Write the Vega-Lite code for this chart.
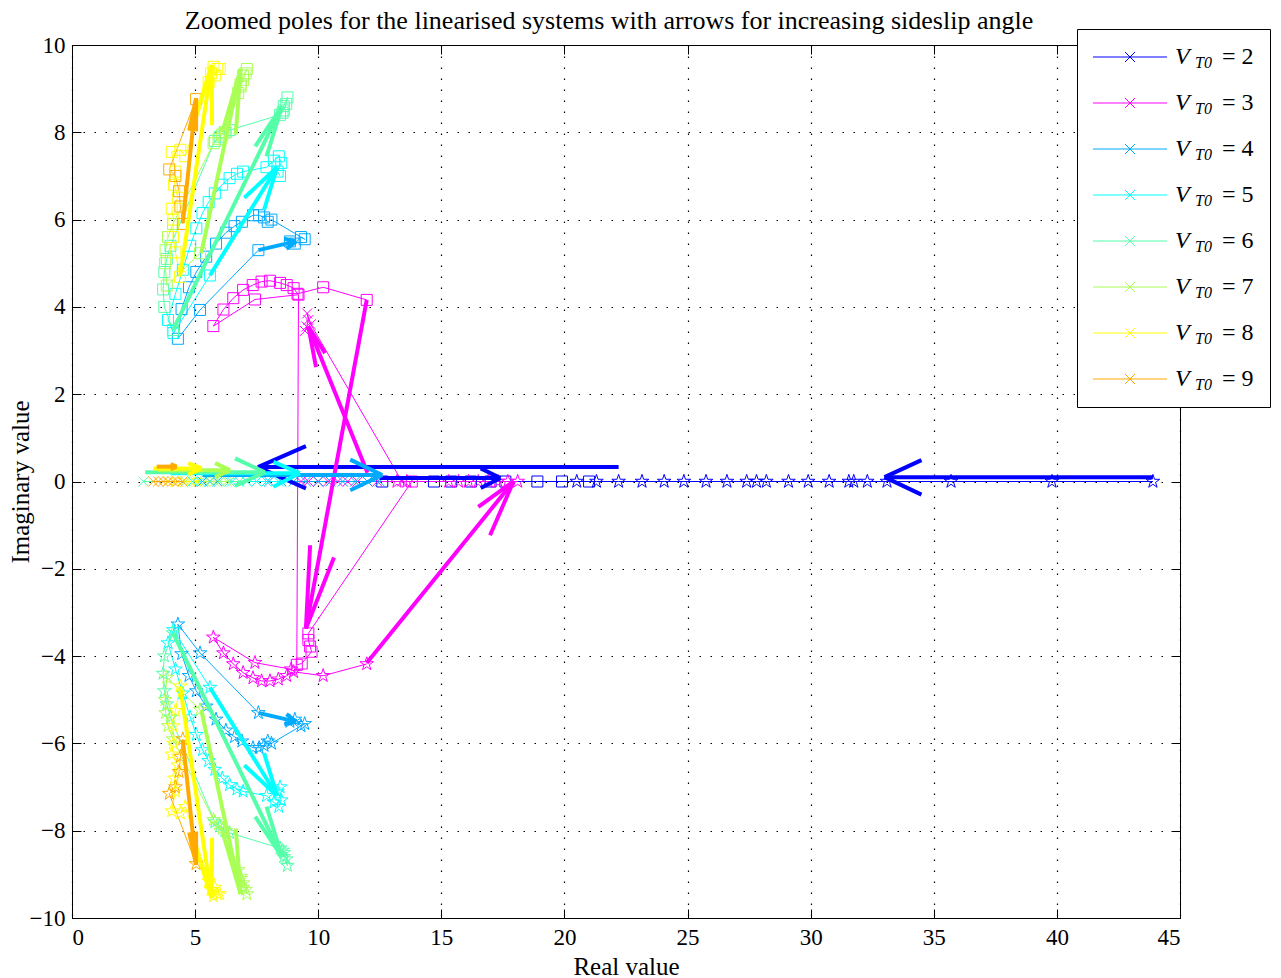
{
  "$schema": "https://vega.github.io/schema/vega-lite/v6.json",
  "width": 1108,
  "height": 873,
  "autosize": {"type": "none"},
  "padding": {"left": 72, "top": 45, "right": 101, "bottom": 60},
  "background": "#ffffff",
  "title": {
    "text": "Zoomed poles for the linearised systems with arrows for increasing sideslip angle",
    "font": "Liberation Serif",
    "fontSize": 26,
    "fontWeight": "normal",
    "color": "#000000",
    "anchor": "middle",
    "offset": -5,
    "dx": -17
  },
  "config": {
    "view": {"stroke": "#000000", "strokeWidth": 1},
    "axis": {
      "labelFont": "Liberation Serif",
      "labelFontSize": 23,
      "labelColor": "#000000",
      "titleFont": "Liberation Serif",
      "titleFontSize": 25,
      "titleFontWeight": "normal",
      "titleColor": "#000000",
      "domainColor": "#000000",
      "domainWidth": 1,
      "tickColor": "#000000",
      "tickWidth": 1,
      "tickSize": -9,
      "labelPadding": 14,
      "gridColor": "#000000",
      "gridOpacity": 1,
      "gridWidth": 1.2,
      "gridDash": [1.5, 9.5]
    }
  },
  "datasets": {
    "poles": [
      {"V":2,"k":"2s","m":"sq","i":0,"re":12.6,"im":0},
      {"V":2,"k":"2s","m":"sq","i":1,"re":14.7,"im":0},
      {"V":2,"k":"2s","m":"sq","i":2,"re":15.4,"im":0},
      {"V":2,"k":"2s","m":"sq","i":3,"re":16.2,"im":0},
      {"V":2,"k":"2s","m":"sq","i":4,"re":17.0,"im":0},
      {"V":2,"k":"2s","m":"sq","i":5,"re":17.6,"im":0},
      {"V":2,"k":"2s","m":"sq","i":6,"re":18.9,"im":0},
      {"V":2,"k":"2s","m":"sq","i":7,"re":19.9,"im":0},
      {"V":2,"k":"2s","m":"sq","i":8,"re":21.0,"im":0},
      {"V":2,"k":"2t","m":"st","i":0,"re":20.5,"im":0},
      {"V":2,"k":"2t","m":"st","i":1,"re":21.3,"im":0},
      {"V":2,"k":"2t","m":"st","i":2,"re":22.2,"im":0},
      {"V":2,"k":"2t","m":"st","i":3,"re":23.15,"im":0},
      {"V":2,"k":"2t","m":"st","i":4,"re":24.05,"im":0},
      {"V":2,"k":"2t","m":"st","i":5,"re":24.85,"im":0},
      {"V":2,"k":"2t","m":"st","i":6,"re":25.75,"im":0},
      {"V":2,"k":"2t","m":"st","i":7,"re":26.6,"im":0},
      {"V":2,"k":"2t","m":"st","i":8,"re":27.4,"im":0},
      {"V":2,"k":"2t","m":"st","i":9,"re":27.8,"im":0},
      {"V":2,"k":"2t","m":"st","i":10,"re":28.2,"im":0},
      {"V":2,"k":"2t","m":"st","i":11,"re":29.1,"im":0},
      {"V":2,"k":"2t","m":"st","i":12,"re":29.9,"im":0},
      {"V":2,"k":"2t","m":"st","i":13,"re":30.75,"im":0},
      {"V":2,"k":"2t","m":"st","i":14,"re":31.55,"im":0},
      {"V":2,"k":"2t","m":"st","i":15,"re":31.75,"im":0},
      {"V":2,"k":"2t","m":"st","i":16,"re":32.3,"im":0},
      {"V":2,"k":"2t","m":"st","i":17,"re":33.1,"im":0},
      {"V":2,"k":"2t","m":"st","i":18,"re":35.7,"im":0},
      {"V":2,"k":"2t","m":"st","i":19,"re":39.8,"im":0},
      {"V":2,"k":"2t","m":"st","i":20,"re":43.9,"im":0},

      {"V":3,"k":"3s","m":"sq","i":0,"re":11.97,"im":4.16},
      {"V":3,"k":"3s","m":"sq","i":1,"re":10.2,"im":4.45},
      {"V":3,"k":"3s","m":"sq","i":2,"re":9.16,"im":4.3},
      {"V":3,"k":"3s","m":"sq","i":3,"re":9.0,"im":4.43},
      {"V":3,"k":"3s","m":"sq","i":4,"re":8.72,"im":4.5},
      {"V":3,"k":"3s","m":"sq","i":5,"re":8.45,"im":4.55},
      {"V":3,"k":"3s","m":"sq","i":6,"re":8.04,"im":4.6},
      {"V":3,"k":"3s","m":"sq","i":7,"re":7.7,"im":4.58},
      {"V":3,"k":"3s","m":"sq","i":8,"re":7.34,"im":4.5},
      {"V":3,"k":"3s","m":"sq","i":9,"re":6.95,"im":4.39},
      {"V":3,"k":"3s","m":"sq","i":10,"re":6.55,"im":4.2},
      {"V":3,"k":"3s","m":"sq","i":11,"re":6.15,"im":3.94},
      {"V":3,"k":"3s","m":"sq","i":12,"re":5.74,"im":3.56},
      {"V":3,"k":"3s","m":"sq","i":13,"re":7.43,"im":4.17},
      {"V":3,"k":"3s","m":"sq","i":14,"re":9.2,"im":4.28},
      {"V":3,"k":"3s","m":"sq","i":15,"re":9.13,"im":-4.2},
      {"V":3,"k":"3s","m":"sq","i":16,"re":9.33,"im":-4.17},
      {"V":3,"k":"3s","m":"sq","i":17,"re":9.73,"im":-3.9},
      {"V":3,"k":"3s","m":"sq","i":18,"re":9.67,"im":-3.78},
      {"V":3,"k":"3s","m":"sq","i":19,"re":9.6,"im":-3.63},
      {"V":3,"k":"3s","m":"sq","i":20,"re":9.6,"im":-3.48},
      {"V":3,"k":"3s","m":"sq","i":21,"re":13.8,"im":0},
      {"V":3,"k":"3t","m":"st","i":0,"re":11.97,"im":-4.18},
      {"V":3,"k":"3t","m":"st","i":1,"re":10.2,"im":-4.45},
      {"V":3,"k":"3t","m":"st","i":2,"re":9.0,"im":-4.36},
      {"V":3,"k":"3t","m":"st","i":3,"re":8.72,"im":-4.45},
      {"V":3,"k":"3t","m":"st","i":4,"re":8.38,"im":-4.53},
      {"V":3,"k":"3t","m":"st","i":5,"re":8.04,"im":-4.57},
      {"V":3,"k":"3t","m":"st","i":6,"re":7.7,"im":-4.57},
      {"V":3,"k":"3t","m":"st","i":7,"re":7.35,"im":-4.5},
      {"V":3,"k":"3t","m":"st","i":8,"re":6.95,"im":-4.38},
      {"V":3,"k":"3t","m":"st","i":9,"re":6.55,"im":-4.18},
      {"V":3,"k":"3t","m":"st","i":10,"re":6.15,"im":-3.93},
      {"V":3,"k":"3t","m":"st","i":11,"re":5.74,"im":-3.57},
      {"V":3,"k":"3t","m":"st","i":12,"re":7.43,"im":-4.15},
      {"V":3,"k":"3t","m":"st","i":13,"re":8.9,"im":-4.3},
      {"V":3,"k":"3r","m":"st","i":0,"re":13.2,"im":0},
      {"V":3,"k":"3r","m":"st","i":1,"re":13.6,"im":0},
      {"V":3,"k":"3r","m":"st","i":2,"re":15.3,"im":0},
      {"V":3,"k":"3r","m":"st","i":3,"re":15.7,"im":0},
      {"V":3,"k":"3r","m":"st","i":4,"re":16.1,"im":0},
      {"V":3,"k":"3r","m":"st","i":5,"re":16.5,"im":0},
      {"V":3,"k":"3r","m":"st","i":6,"re":16.9,"im":0},
      {"V":3,"k":"3r","m":"st","i":7,"re":17.3,"im":0},
      {"V":3,"k":"3r","m":"st","i":8,"re":17.7,"im":0},
      {"V":3,"k":"3r","m":"st","i":9,"re":18.1,"im":0},
      {"V":3,"k":"3x","m":"x","i":0,"re":9.46,"im":3.45},
      {"V":3,"k":"3x","m":"x","i":1,"re":9.53,"im":3.55},
      {"V":3,"k":"3x","m":"x","i":2,"re":9.6,"im":3.7},
      {"V":3,"k":"3x","m":"x","i":3,"re":9.55,"im":3.85},
      {"V":3,"k":"3x","m":"x","i":4,"re":9.7,"im":3.6},
      {"V":3,"k":"3x","m":"x","i":5,"re":13.4,"im":0},
      {"V":3,"k":"3x","m":"x","i":6,"re":12.4,"im":0},
      {"V":3,"k":"3x","m":"x","i":7,"re":12.0,"im":0},
      {"V":3,"k":"3x","m":"x","i":8,"re":11.6,"im":0},
      {"V":3,"k":"3x","m":"x","i":9,"re":11.2,"im":0},
      {"V":3,"k":"3x","m":"x","i":10,"re":10.8,"im":0},
      {"V":3,"k":"3x","m":"x","i":11,"re":10.4,"im":0},
      {"V":3,"k":"3x","m":"x","i":12,"re":10.0,"im":0},
      {"V":3,"k":"3x","m":"x","i":13,"re":9.6,"im":0},
      {"V":3,"k":"3x","m":"x","i":14,"re":9.3,"im":0},

      {"V":4,"k":"4s","m":"sq","i":0,"re":7.57,"im":5.3},
      {"V":4,"k":"4s","m":"sq","i":1,"re":5.2,"im":3.93},
      {"V":4,"k":"4s","m":"sq","i":2,"re":4.3,"im":3.27},
      {"V":4,"k":"4s","m":"sq","i":3,"re":4.45,"im":3.95},
      {"V":4,"k":"4s","m":"sq","i":4,"re":4.75,"im":4.45},
      {"V":4,"k":"4s","m":"sq","i":5,"re":5.05,"im":4.8},
      {"V":4,"k":"4s","m":"sq","i":6,"re":5.45,"im":5.15},
      {"V":4,"k":"4s","m":"sq","i":7,"re":5.85,"im":5.45},
      {"V":4,"k":"4s","m":"sq","i":8,"re":6.25,"im":5.7},
      {"V":4,"k":"4s","m":"sq","i":9,"re":6.6,"im":5.85},
      {"V":4,"k":"4s","m":"sq","i":10,"re":6.9,"im":5.95},
      {"V":4,"k":"4s","m":"sq","i":11,"re":7.35,"im":6.1},
      {"V":4,"k":"4s","m":"sq","i":12,"re":7.6,"im":6.1},
      {"V":4,"k":"4s","m":"sq","i":13,"re":7.8,"im":6.05},
      {"V":4,"k":"4s","m":"sq","i":14,"re":7.95,"im":5.95},
      {"V":4,"k":"4s","m":"sq","i":15,"re":8.1,"im":6.0},
      {"V":4,"k":"4s","m":"sq","i":16,"re":9.45,"im":5.55},
      {"V":4,"k":"4s","m":"sq","i":17,"re":9.3,"im":5.6},
      {"V":4,"k":"4s","m":"sq","i":18,"re":9.05,"im":5.45},
      {"V":4,"k":"4s","m":"sq","i":19,"re":8.85,"im":5.5},
      {"V":4,"k":"4t","m":"st","i":0,"re":7.57,"im":-5.3},
      {"V":4,"k":"4t","m":"st","i":1,"re":5.2,"im":-3.93},
      {"V":4,"k":"4t","m":"st","i":2,"re":4.3,"im":-3.27},
      {"V":4,"k":"4t","m":"st","i":3,"re":4.45,"im":-3.95},
      {"V":4,"k":"4t","m":"st","i":4,"re":4.75,"im":-4.45},
      {"V":4,"k":"4t","m":"st","i":5,"re":5.05,"im":-4.8},
      {"V":4,"k":"4t","m":"st","i":6,"re":5.45,"im":-5.15},
      {"V":4,"k":"4t","m":"st","i":7,"re":5.85,"im":-5.45},
      {"V":4,"k":"4t","m":"st","i":8,"re":6.25,"im":-5.7},
      {"V":4,"k":"4t","m":"st","i":9,"re":6.6,"im":-5.85},
      {"V":4,"k":"4t","m":"st","i":10,"re":6.9,"im":-5.95},
      {"V":4,"k":"4t","m":"st","i":11,"re":7.35,"im":-6.1},
      {"V":4,"k":"4t","m":"st","i":12,"re":7.6,"im":-6.1},
      {"V":4,"k":"4t","m":"st","i":13,"re":7.8,"im":-6.05},
      {"V":4,"k":"4t","m":"st","i":14,"re":7.95,"im":-5.95},
      {"V":4,"k":"4t","m":"st","i":15,"re":8.1,"im":-6.0},
      {"V":4,"k":"4t","m":"st","i":16,"re":9.45,"im":-5.55},
      {"V":4,"k":"4t","m":"st","i":17,"re":9.3,"im":-5.6},
      {"V":4,"k":"4t","m":"st","i":18,"re":9.05,"im":-5.45},
      {"V":4,"k":"4t","m":"st","i":19,"re":8.85,"im":-5.5},
      {"V":4,"k":"4x","m":"x","i":0,"re":5.3,"im":0},
      {"V":4,"k":"4x","m":"x","i":1,"re":5.6,"im":0},
      {"V":4,"k":"4x","m":"x","i":2,"re":5.9,"im":0},
      {"V":4,"k":"4x","m":"x","i":3,"re":8.0,"im":0},
      {"V":4,"k":"4x","m":"x","i":4,"re":8.5,"im":0},
      {"V":4,"k":"4x","m":"x","i":5,"re":9.0,"im":0},
      {"V":4,"k":"4x","m":"x","i":6,"re":9.5,"im":0},
      {"V":4,"k":"4x","m":"x","i":7,"re":10.0,"im":0},
      {"V":4,"k":"4x","m":"x","i":8,"re":10.5,"im":0},
      {"V":4,"k":"4x","m":"x","i":9,"re":11.0,"im":0},
      {"V":4,"k":"4x","m":"x","i":10,"re":11.5,"im":0},
      {"V":4,"k":"4x","m":"x","i":11,"re":12.0,"im":0},
      {"V":4,"k":"4x","m":"x","i":12,"re":12.5,"im":0},

      {"V":5,"k":"5s","m":"sq","i":0,"re":5.6,"im":4.72},
      {"V":5,"k":"5s","m":"sq","i":1,"re":4.12,"im":3.4},
      {"V":5,"k":"5s","m":"sq","i":2,"re":3.9,"im":3.7},
      {"V":5,"k":"5s","m":"sq","i":3,"re":4.2,"im":4.3},
      {"V":5,"k":"5s","m":"sq","i":4,"re":4.5,"im":4.85},
      {"V":5,"k":"5s","m":"sq","i":5,"re":4.8,"im":5.4},
      {"V":5,"k":"5s","m":"sq","i":6,"re":5.05,"im":5.8},
      {"V":5,"k":"5s","m":"sq","i":7,"re":5.3,"im":6.15},
      {"V":5,"k":"5s","m":"sq","i":8,"re":5.55,"im":6.4},
      {"V":5,"k":"5s","m":"sq","i":9,"re":5.8,"im":6.6},
      {"V":5,"k":"5s","m":"sq","i":10,"re":6.1,"im":6.8},
      {"V":5,"k":"5s","m":"sq","i":11,"re":6.4,"im":6.95},
      {"V":5,"k":"5s","m":"sq","i":12,"re":6.7,"im":7.05},
      {"V":5,"k":"5s","m":"sq","i":13,"re":6.95,"im":7.1},
      {"V":5,"k":"5s","m":"sq","i":14,"re":7.9,"im":7.2},
      {"V":5,"k":"5s","m":"sq","i":15,"re":8.2,"im":7.35},
      {"V":5,"k":"5s","m":"sq","i":16,"re":8.4,"im":7.45},
      {"V":5,"k":"5s","m":"sq","i":17,"re":8.5,"im":7.3},
      {"V":5,"k":"5s","m":"sq","i":18,"re":8.35,"im":7.1},
      {"V":5,"k":"5s","m":"sq","i":19,"re":8.45,"im":7.0},
      {"V":5,"k":"5t","m":"st","i":0,"re":5.6,"im":-4.72},
      {"V":5,"k":"5t","m":"st","i":1,"re":4.12,"im":-3.4},
      {"V":5,"k":"5t","m":"st","i":2,"re":3.9,"im":-3.7},
      {"V":5,"k":"5t","m":"st","i":3,"re":4.2,"im":-4.3},
      {"V":5,"k":"5t","m":"st","i":4,"re":4.5,"im":-4.85},
      {"V":5,"k":"5t","m":"st","i":5,"re":4.8,"im":-5.4},
      {"V":5,"k":"5t","m":"st","i":6,"re":5.05,"im":-5.8},
      {"V":5,"k":"5t","m":"st","i":7,"re":5.3,"im":-6.15},
      {"V":5,"k":"5t","m":"st","i":8,"re":5.55,"im":-6.4},
      {"V":5,"k":"5t","m":"st","i":9,"re":5.8,"im":-6.6},
      {"V":5,"k":"5t","m":"st","i":10,"re":6.1,"im":-6.8},
      {"V":5,"k":"5t","m":"st","i":11,"re":6.4,"im":-6.95},
      {"V":5,"k":"5t","m":"st","i":12,"re":6.7,"im":-7.05},
      {"V":5,"k":"5t","m":"st","i":13,"re":6.95,"im":-7.1},
      {"V":5,"k":"5t","m":"st","i":14,"re":7.9,"im":-7.2},
      {"V":5,"k":"5t","m":"st","i":15,"re":8.2,"im":-7.35},
      {"V":5,"k":"5t","m":"st","i":16,"re":8.4,"im":-7.45},
      {"V":5,"k":"5t","m":"st","i":17,"re":8.5,"im":-7.3},
      {"V":5,"k":"5t","m":"st","i":18,"re":8.35,"im":-7.1},
      {"V":5,"k":"5t","m":"st","i":19,"re":8.45,"im":-7.0},
      {"V":5,"k":"5x","m":"x","i":0,"re":4.9,"im":0},
      {"V":5,"k":"5x","m":"x","i":1,"re":5.2,"im":0},
      {"V":5,"k":"5x","m":"x","i":2,"re":6.5,"im":0},
      {"V":5,"k":"5x","m":"x","i":3,"re":7.1,"im":0},
      {"V":5,"k":"5x","m":"x","i":4,"re":7.5,"im":0},
      {"V":5,"k":"5x","m":"x","i":5,"re":7.9,"im":0},
      {"V":5,"k":"5x","m":"x","i":6,"re":8.4,"im":0},

      {"V":6,"k":"6s","m":"sq","i":0,"re":4.1,"im":3.47},
      {"V":6,"k":"6s","m":"sq","i":1,"re":3.75,"im":4.0},
      {"V":6,"k":"6s","m":"sq","i":2,"re":3.7,"im":4.4},
      {"V":6,"k":"6s","m":"sq","i":3,"re":3.75,"im":4.8},
      {"V":6,"k":"6s","m":"sq","i":4,"re":3.85,"im":5.1},
      {"V":6,"k":"6s","m":"sq","i":5,"re":4.0,"im":5.4},
      {"V":6,"k":"6s","m":"sq","i":6,"re":5.8,"im":7.8},
      {"V":6,"k":"6s","m":"sq","i":7,"re":6.0,"im":7.9},
      {"V":6,"k":"6s","m":"sq","i":8,"re":6.2,"im":8.0},
      {"V":6,"k":"6s","m":"sq","i":9,"re":6.4,"im":8.05},
      {"V":6,"k":"6s","m":"sq","i":10,"re":8.45,"im":8.4},
      {"V":6,"k":"6s","m":"sq","i":11,"re":8.6,"im":8.5},
      {"V":6,"k":"6s","m":"sq","i":12,"re":8.7,"im":8.65},
      {"V":6,"k":"6s","m":"sq","i":13,"re":8.75,"im":8.8},
      {"V":6,"k":"6s","m":"sq","i":14,"re":8.6,"im":8.6},
      {"V":6,"k":"6s","m":"sq","i":15,"re":8.55,"im":8.45},
      {"V":6,"k":"6t","m":"st","i":0,"re":4.1,"im":-3.47},
      {"V":6,"k":"6t","m":"st","i":1,"re":3.75,"im":-4.0},
      {"V":6,"k":"6t","m":"st","i":2,"re":3.7,"im":-4.4},
      {"V":6,"k":"6t","m":"st","i":3,"re":3.75,"im":-4.8},
      {"V":6,"k":"6t","m":"st","i":4,"re":3.85,"im":-5.1},
      {"V":6,"k":"6t","m":"st","i":5,"re":4.0,"im":-5.4},
      {"V":6,"k":"6t","m":"st","i":6,"re":5.8,"im":-7.8},
      {"V":6,"k":"6t","m":"st","i":7,"re":6.0,"im":-7.9},
      {"V":6,"k":"6t","m":"st","i":8,"re":6.2,"im":-8.0},
      {"V":6,"k":"6t","m":"st","i":9,"re":6.4,"im":-8.05},
      {"V":6,"k":"6t","m":"st","i":10,"re":8.45,"im":-8.4},
      {"V":6,"k":"6t","m":"st","i":11,"re":8.6,"im":-8.5},
      {"V":6,"k":"6t","m":"st","i":12,"re":8.7,"im":-8.65},
      {"V":6,"k":"6t","m":"st","i":13,"re":8.75,"im":-8.8},
      {"V":6,"k":"6t","m":"st","i":14,"re":8.6,"im":-8.6},
      {"V":6,"k":"6t","m":"st","i":15,"re":8.55,"im":-8.45},
      {"V":6,"k":"6x","m":"x","i":0,"re":2.9,"im":0},
      {"V":6,"k":"6x","m":"x","i":1,"re":5.6,"im":0},
      {"V":6,"k":"6x","m":"x","i":2,"re":6.0,"im":0},
      {"V":6,"k":"6x","m":"x","i":3,"re":6.4,"im":0},
      {"V":6,"k":"6x","m":"x","i":4,"re":6.8,"im":0},

      {"V":7,"k":"7s","m":"sq","i":0,"re":5.2,"im":5.23},
      {"V":7,"k":"7s","m":"sq","i":1,"re":3.85,"im":4.49},
      {"V":7,"k":"7s","m":"sq","i":2,"re":3.78,"im":5.0},
      {"V":7,"k":"7s","m":"sq","i":3,"re":3.8,"im":5.3},
      {"V":7,"k":"7s","m":"sq","i":4,"re":3.9,"im":5.6},
      {"V":7,"k":"7s","m":"sq","i":5,"re":4.1,"im":5.9},
      {"V":7,"k":"7s","m":"sq","i":6,"re":5.75,"im":7.75},
      {"V":7,"k":"7s","m":"sq","i":7,"re":5.95,"im":7.85},
      {"V":7,"k":"7s","m":"sq","i":8,"re":6.1,"im":7.95},
      {"V":7,"k":"7s","m":"sq","i":9,"re":6.25,"im":8.0},
      {"V":7,"k":"7s","m":"sq","i":10,"re":6.75,"im":8.9},
      {"V":7,"k":"7s","m":"sq","i":11,"re":6.85,"im":9.05},
      {"V":7,"k":"7s","m":"sq","i":12,"re":6.95,"im":9.2},
      {"V":7,"k":"7s","m":"sq","i":13,"re":7.05,"im":9.35},
      {"V":7,"k":"7s","m":"sq","i":14,"re":7.1,"im":9.45},
      {"V":7,"k":"7s","m":"sq","i":15,"re":6.95,"im":9.3},
      {"V":7,"k":"7s","m":"sq","i":16,"re":6.85,"im":9.1},
      {"V":7,"k":"7t","m":"st","i":0,"re":5.2,"im":-5.23},
      {"V":7,"k":"7t","m":"st","i":1,"re":3.85,"im":-4.49},
      {"V":7,"k":"7t","m":"st","i":2,"re":3.78,"im":-5.0},
      {"V":7,"k":"7t","m":"st","i":3,"re":3.8,"im":-5.3},
      {"V":7,"k":"7t","m":"st","i":4,"re":3.9,"im":-5.6},
      {"V":7,"k":"7t","m":"st","i":5,"re":4.1,"im":-5.9},
      {"V":7,"k":"7t","m":"st","i":6,"re":5.75,"im":-7.75},
      {"V":7,"k":"7t","m":"st","i":7,"re":5.95,"im":-7.85},
      {"V":7,"k":"7t","m":"st","i":8,"re":6.1,"im":-7.95},
      {"V":7,"k":"7t","m":"st","i":9,"re":6.25,"im":-8.0},
      {"V":7,"k":"7t","m":"st","i":10,"re":6.75,"im":-8.9},
      {"V":7,"k":"7t","m":"st","i":11,"re":6.85,"im":-9.05},
      {"V":7,"k":"7t","m":"st","i":12,"re":6.95,"im":-9.2},
      {"V":7,"k":"7t","m":"st","i":13,"re":7.05,"im":-9.35},
      {"V":7,"k":"7t","m":"st","i":14,"re":7.1,"im":-9.45},
      {"V":7,"k":"7t","m":"st","i":15,"re":6.95,"im":-9.3},
      {"V":7,"k":"7t","m":"st","i":16,"re":6.85,"im":-9.1},
      {"V":7,"k":"7x","m":"x","i":0,"re":4.6,"im":0},
      {"V":7,"k":"7x","m":"x","i":1,"re":5.0,"im":0},
      {"V":7,"k":"7x","m":"x","i":2,"re":5.4,"im":0},
      {"V":7,"k":"7x","m":"x","i":3,"re":5.8,"im":0},
      {"V":7,"k":"7x","m":"x","i":4,"re":6.3,"im":0},

      {"V":8,"k":"8s","m":"sq","i":0,"re":4.39,"im":4.69},
      {"V":8,"k":"8s","m":"sq","i":1,"re":4.2,"im":5.25},
      {"V":8,"k":"8s","m":"sq","i":2,"re":4.1,"im":5.6},
      {"V":8,"k":"8s","m":"sq","i":3,"re":4.12,"im":6.0},
      {"V":8,"k":"8s","m":"sq","i":4,"re":4.05,"im":6.25},
      {"V":8,"k":"8s","m":"sq","i":5,"re":4.3,"im":6.5},
      {"V":8,"k":"8s","m":"sq","i":6,"re":4.15,"im":6.8},
      {"V":8,"k":"8s","m":"sq","i":7,"re":4.2,"im":7.1},
      {"V":8,"k":"8s","m":"sq","i":8,"re":4.05,"im":7.55},
      {"V":8,"k":"8s","m":"sq","i":9,"re":4.4,"im":7.6},
      {"V":8,"k":"8s","m":"sq","i":10,"re":4.6,"im":7.45},
      {"V":8,"k":"8s","m":"sq","i":11,"re":5.55,"im":9.15},
      {"V":8,"k":"8s","m":"sq","i":12,"re":5.65,"im":9.35},
      {"V":8,"k":"8s","m":"sq","i":13,"re":5.75,"im":9.5},
      {"V":8,"k":"8s","m":"sq","i":14,"re":5.9,"im":9.45},
      {"V":8,"k":"8s","m":"sq","i":15,"re":5.8,"im":9.3},
      {"V":8,"k":"8s","m":"sq","i":16,"re":6.0,"im":9.45},
      {"V":8,"k":"8t","m":"st","i":0,"re":4.39,"im":-4.69},
      {"V":8,"k":"8t","m":"st","i":1,"re":4.2,"im":-5.25},
      {"V":8,"k":"8t","m":"st","i":2,"re":4.1,"im":-5.6},
      {"V":8,"k":"8t","m":"st","i":3,"re":4.12,"im":-6.0},
      {"V":8,"k":"8t","m":"st","i":4,"re":4.05,"im":-6.25},
      {"V":8,"k":"8t","m":"st","i":5,"re":4.3,"im":-6.5},
      {"V":8,"k":"8t","m":"st","i":6,"re":4.15,"im":-6.8},
      {"V":8,"k":"8t","m":"st","i":7,"re":4.2,"im":-7.1},
      {"V":8,"k":"8t","m":"st","i":8,"re":4.05,"im":-7.55},
      {"V":8,"k":"8t","m":"st","i":9,"re":4.4,"im":-7.6},
      {"V":8,"k":"8t","m":"st","i":10,"re":4.6,"im":-7.45},
      {"V":8,"k":"8t","m":"st","i":11,"re":5.55,"im":-9.15},
      {"V":8,"k":"8t","m":"st","i":12,"re":5.65,"im":-9.35},
      {"V":8,"k":"8t","m":"st","i":13,"re":5.75,"im":-9.5},
      {"V":8,"k":"8t","m":"st","i":14,"re":5.9,"im":-9.45},
      {"V":8,"k":"8t","m":"st","i":15,"re":5.8,"im":-9.3},
      {"V":8,"k":"8t","m":"st","i":16,"re":6.0,"im":-9.45},
      {"V":8,"k":"8x","m":"x","i":0,"re":3.9,"im":0},
      {"V":8,"k":"8x","m":"x","i":1,"re":4.2,"im":0},
      {"V":8,"k":"8x","m":"x","i":2,"re":4.5,"im":0},
      {"V":8,"k":"8x","m":"x","i":3,"re":4.8,"im":0},
      {"V":8,"k":"8x","m":"x","i":4,"re":5.1,"im":0},

      {"V":9,"k":"9s","m":"sq","i":0,"re":4.5,"im":5.9},
      {"V":9,"k":"9s","m":"sq","i":1,"re":4.4,"im":6.3},
      {"V":9,"k":"9s","m":"sq","i":2,"re":4.35,"im":6.65},
      {"V":9,"k":"9s","m":"sq","i":3,"re":4.2,"im":7.0},
      {"V":9,"k":"9s","m":"sq","i":4,"re":3.95,"im":7.15},
      {"V":9,"k":"9s","m":"sq","i":5,"re":5.04,"im":8.76},
      {"V":9,"k":"9t","m":"st","i":0,"re":4.5,"im":-5.9},
      {"V":9,"k":"9t","m":"st","i":1,"re":4.4,"im":-6.3},
      {"V":9,"k":"9t","m":"st","i":2,"re":4.35,"im":-6.65},
      {"V":9,"k":"9t","m":"st","i":3,"re":4.2,"im":-7.0},
      {"V":9,"k":"9t","m":"st","i":4,"re":3.95,"im":-7.15},
      {"V":9,"k":"9t","m":"st","i":5,"re":5.04,"im":-8.76},
      {"V":9,"k":"9x","m":"x","i":0,"re":3.3,"im":0},
      {"V":9,"k":"9x","m":"x","i":1,"re":3.5,"im":0},
      {"V":9,"k":"9x","m":"x","i":2,"re":3.7,"im":0},
      {"V":9,"k":"9x","m":"x","i":3,"re":3.9,"im":0},
      {"V":9,"k":"9x","m":"x","i":4,"re":4.1,"im":0},
      {"V":9,"k":"9x","m":"x","i":5,"re":4.3,"im":0},
      {"V":9,"k":"9x","m":"x","i":6,"re":4.5,"im":0}
    ],
    "arrows": [
      {"V":2,"x":22.2,"y":0.33,"x2":7.55,"y2":0.33},
      {"V":2,"x":7.55,"y":0.33,"x2":9.5,"y2":0.81},
      {"V":2,"x":7.55,"y":0.33,"x2":9.5,"y2":-0.16},
      {"V":2,"x":43.9,"y":0.1,"x2":33.0,"y2":0.1},
      {"V":2,"x":33.0,"y":0.1,"x2":34.5,"y2":0.49},
      {"V":2,"x":33.0,"y":0.1,"x2":34.5,"y2":-0.3},
      {"V":2,"x":12.5,"y":0.08,"x2":17.4,"y2":0.08},
      {"V":2,"x":17.4,"y":0.08,"x2":16.6,"y2":0.3},
      {"V":2,"x":17.4,"y":0.08,"x2":16.6,"y2":-0.15},
      {"V":3,"x":11.97,"y":4.16,"x2":9.5,"y2":-3.37},
      {"V":3,"x":9.5,"y":-3.37,"x2":9.67,"y2":-1.46},
      {"V":3,"x":9.5,"y":-3.37,"x2":10.64,"y2":-1.74},
      {"V":3,"x":12.0,"y":0.2,"x2":9.6,"y2":3.55},
      {"V":3,"x":9.6,"y":3.55,"x2":9.91,"y2":2.62},
      {"V":3,"x":9.6,"y":3.55,"x2":10.28,"y2":2.94},
      {"V":3,"x":11.97,"y":-4.16,"x2":17.93,"y2":0},
      {"V":3,"x":17.93,"y":0,"x2":16.5,"y2":-0.58},
      {"V":3,"x":17.93,"y":0,"x2":16.98,"y2":-1.23},
      {"V":4,"x":7.57,"y":5.3,"x2":9.1,"y2":5.5},
      {"V":4,"x":9.1,"y":5.5,"x2":8.62,"y2":5.56},
      {"V":4,"x":9.1,"y":5.5,"x2":8.71,"y2":5.33},
      {"V":4,"x":7.57,"y":-5.3,"x2":9.1,"y2":-5.5},
      {"V":4,"x":9.1,"y":-5.5,"x2":8.62,"y2":-5.56},
      {"V":4,"x":9.1,"y":-5.5,"x2":8.71,"y2":-5.33},
      {"V":4,"x":5.3,"y":0.15,"x2":12.6,"y2":0.15},
      {"V":4,"x":12.6,"y":0.15,"x2":11.3,"y2":0.5},
      {"V":4,"x":12.6,"y":0.15,"x2":11.3,"y2":-0.2},
      {"V":5,"x":5.6,"y":4.72,"x2":8.33,"y2":7.2},
      {"V":5,"x":8.33,"y":7.2,"x2":7.0,"y2":6.5},
      {"V":5,"x":8.33,"y":7.2,"x2":7.8,"y2":6.22},
      {"V":5,"x":5.6,"y":-4.72,"x2":8.33,"y2":-7.2},
      {"V":5,"x":8.33,"y":-7.2,"x2":7.0,"y2":-6.5},
      {"V":5,"x":8.33,"y":-7.2,"x2":7.8,"y2":-6.22},
      {"V":5,"x":4.0,"y":0.19,"x2":9.25,"y2":0.19},
      {"V":5,"x":9.25,"y":0.19,"x2":8.18,"y2":0.45},
      {"V":5,"x":9.25,"y":0.19,"x2":8.18,"y2":-0.12},
      {"V":6,"x":4.1,"y":3.47,"x2":8.53,"y2":8.6},
      {"V":6,"x":8.53,"y":8.6,"x2":7.44,"y2":7.68},
      {"V":6,"x":8.53,"y":8.6,"x2":7.9,"y2":7.45},
      {"V":6,"x":4.1,"y":-3.47,"x2":8.53,"y2":-8.6},
      {"V":6,"x":8.53,"y":-8.6,"x2":7.44,"y2":-7.68},
      {"V":6,"x":8.53,"y":-8.6,"x2":7.9,"y2":-7.45},
      {"V":6,"x":2.97,"y":0.21,"x2":7.84,"y2":0.21},
      {"V":6,"x":7.84,"y":0.21,"x2":6.62,"y2":0.53},
      {"V":6,"x":7.84,"y":0.21,"x2":6.62,"y2":-0.1},
      {"V":7,"x":5.25,"y":5.23,"x2":6.85,"y2":9.45},
      {"V":7,"x":6.85,"y":9.45,"x2":6.1,"y2":8.0},
      {"V":7,"x":6.85,"y":9.45,"x2":6.65,"y2":7.95},
      {"V":7,"x":5.25,"y":-5.23,"x2":6.85,"y2":-9.45},
      {"V":7,"x":6.85,"y":-9.45,"x2":6.1,"y2":-8.0},
      {"V":7,"x":6.85,"y":-9.45,"x2":6.65,"y2":-7.95},
      {"V":7,"x":3.5,"y":0.26,"x2":6.42,"y2":0.26},
      {"V":7,"x":6.42,"y":0.26,"x2":5.81,"y2":0.42},
      {"V":7,"x":6.42,"y":0.26,"x2":5.81,"y2":0.1},
      {"V":8,"x":4.39,"y":4.69,"x2":5.67,"y2":9.54},
      {"V":8,"x":5.67,"y":9.54,"x2":4.94,"y2":8.23},
      {"V":8,"x":5.67,"y":9.54,"x2":5.69,"y2":8.16},
      {"V":8,"x":4.39,"y":-4.69,"x2":5.67,"y2":-9.54},
      {"V":8,"x":5.67,"y":-9.54,"x2":4.94,"y2":-8.23},
      {"V":8,"x":5.67,"y":-9.54,"x2":5.69,"y2":-8.16},
      {"V":8,"x":3.3,"y":0.3,"x2":5.27,"y2":0.3},
      {"V":8,"x":5.27,"y":0.3,"x2":4.72,"y2":0.42},
      {"V":8,"x":5.27,"y":0.3,"x2":4.72,"y2":0.16},
      {"V":9,"x":4.5,"y":5.92,"x2":5.04,"y2":8.78},
      {"V":9,"x":5.04,"y":8.78,"x2":4.76,"y2":8.04},
      {"V":9,"x":5.04,"y":8.78,"x2":5.04,"y2":8.02},
      {"V":9,"x":4.5,"y":-5.92,"x2":5.04,"y2":-8.78},
      {"V":9,"x":5.04,"y":-8.78,"x2":4.76,"y2":-8.04},
      {"V":9,"x":5.04,"y":-8.78,"x2":5.04,"y2":-8.02},
      {"V":9,"x":3.44,"y":0.34,"x2":4.25,"y2":0.34},
      {"V":9,"x":4.25,"y":0.34,"x2":4.0,"y2":0.4},
      {"V":9,"x":4.25,"y":0.34,"x2":4.0,"y2":0.28}
    ]
  },
  "resolve": {"axis": {"x": "independent", "y": "independent"}},
  "layer": [
    {
      "data": {"name": "poles"},
      "mark": {"type": "line", "strokeWidth": 1, "clip": true},
      "encoding": {
        "x": {
          "field": "re", "type": "quantitative",
          "scale": {"domain": [0, 45], "nice": false, "zero": false},
          "axis": {"orient": "bottom", "values": [0, 5, 10, 15, 20, 25, 30, 35, 40, 45], "title": "Real value", "grid": true, "labelPadding": 17, "titlePadding": 5}
        },
        "y": {
          "field": "im", "type": "quantitative",
          "scale": {"domain": [-10, 10], "nice": false, "zero": false},
          "axis": {"orient": "left", "values": [-10, -8, -6, -4, -2, 0, 2, 4, 6, 8, 10], "title": "Imaginary value", "grid": true, "labelPadding": 16, "titlePadding": -4}
        },
        "color": {
          "field": "V", "type": "nominal",
          "scale": {"domain": [2, 3, 4, 5, 6, 7, 8, 9], "range": ["#0000ff", "#ff00ff", "#00aaff", "#00ffff", "#55ffaa", "#aaff55", "#ffff00", "#ffaa00"]},
          "legend": {
            "orient": "none", "legendX": 1005, "legendY": -16, "title": null,
            "padding": 16, "strokeColor": "#000000", "fillColor": "#ffffff",
            "symbolType": "M-12,0H62M20,-5L30,5M20,5L30,-5", "symbolSize": 4, "symbolStrokeWidth": 1, "symbolFillColor": "transparent",
            "labelExpr": "'= ' + datum.label",
            "labelFont": "Liberation Serif", "labelFontSize": 24, "labelColor": "#000000",
            "labelOffset": 105, "labelLimit": 400, "rowPadding": 22, "zindex": 1
          }
        },
        "detail": {"field": "k"},
        "order": {"field": "i", "type": "quantitative"}
      }
    },
    {
      "data": {"name": "poles"},
      "mark": {"type": "point", "filled": false, "strokeWidth": 1, "size": 121, "opacity": 1, "clip": true},
      "encoding": {
        "x": {"field": "re", "type": "quantitative", "axis": null},
        "y": {"field": "im", "type": "quantitative", "axis": null},
        "color": {"field": "V", "type": "nominal", "legend": null},
        "shape": {
          "field": "m", "type": "nominal", "legend": null,
          "scale": {
            "domain": ["sq", "st", "x"],
            "range": [
              "square",
              "M0,-1.3L0.294,-0.405L1.236,-0.402L0.476,0.155L0.764,1.052L0,0.5L-0.764,1.052L-0.476,0.155L-1.236,-0.402L-0.294,-0.405Z",
              "M-0.9,-0.9L0.9,0.9M-0.9,0.9L0.9,-0.9"
            ]
          }
        }
      }
    },
    {
      "data": {"name": "arrows"},
      "mark": {"type": "rule", "strokeWidth": 4, "clip": true},
      "encoding": {
        "x": {"field": "x", "type": "quantitative", "axis": {"orient": "top", "values": [0, 5, 10, 15, 20, 25, 30, 35, 40, 45], "labels": false, "grid": false, "title": null}},
        "y": {"field": "y", "type": "quantitative", "axis": {"orient": "right", "values": [-10, -8, -6, -4, -2, 0, 2, 4, 6, 8, 10], "labels": false, "grid": false, "title": null}},
        "x2": {"field": "x2"},
        "y2": {"field": "y2"},
        "color": {"field": "V", "type": "nominal", "legend": null}
      }
    },
    {
      "data": {"name": "arrows"},
      "mark": {"type": "point", "strokeWidth": 0, "fill": "transparent"},
      "encoding": {
        "size": {
          "field": "V", "type": "ordinal",
          "scale": {"range": [0, 0]},
          "legend": {
            "orient": "none", "legendX": 1079, "legendY": 0, "title": null, "padding": 0,
            "values": [2, 3, 4, 5, 6, 7, 8, 9],
            "symbolOpacity": 0,
            "labelExpr": "'V'", "labelFont": "Liberation Serif", "labelFontStyle": "italic", "labelFontSize": 24, "labelColor": "#000000",
            "labelOffset": 0, "rowPadding": 22, "zindex": 2
          }
        },
        "opacity": {
          "field": "V", "type": "ordinal",
          "scale": {"domain": ["2", "3", "4", "5", "6", "7", "8", "9"], "range": [0, 0]},
          "legend": {
            "orient": "none", "legendX": 1107, "legendY": 10, "title": null, "padding": 0,
            "values": ["2", "3", "4", "5", "6", "7", "8", "9"],
            "symbolSize": 0,
            "labelExpr": "'T0'", "labelFont": "Liberation Serif", "labelFontStyle": "italic", "labelFontSize": 16, "labelColor": "#000000",
            "labelOffset": 0, "rowPadding": 30, "zindex": 2
          }
        }
      }
    }
  ]
}
